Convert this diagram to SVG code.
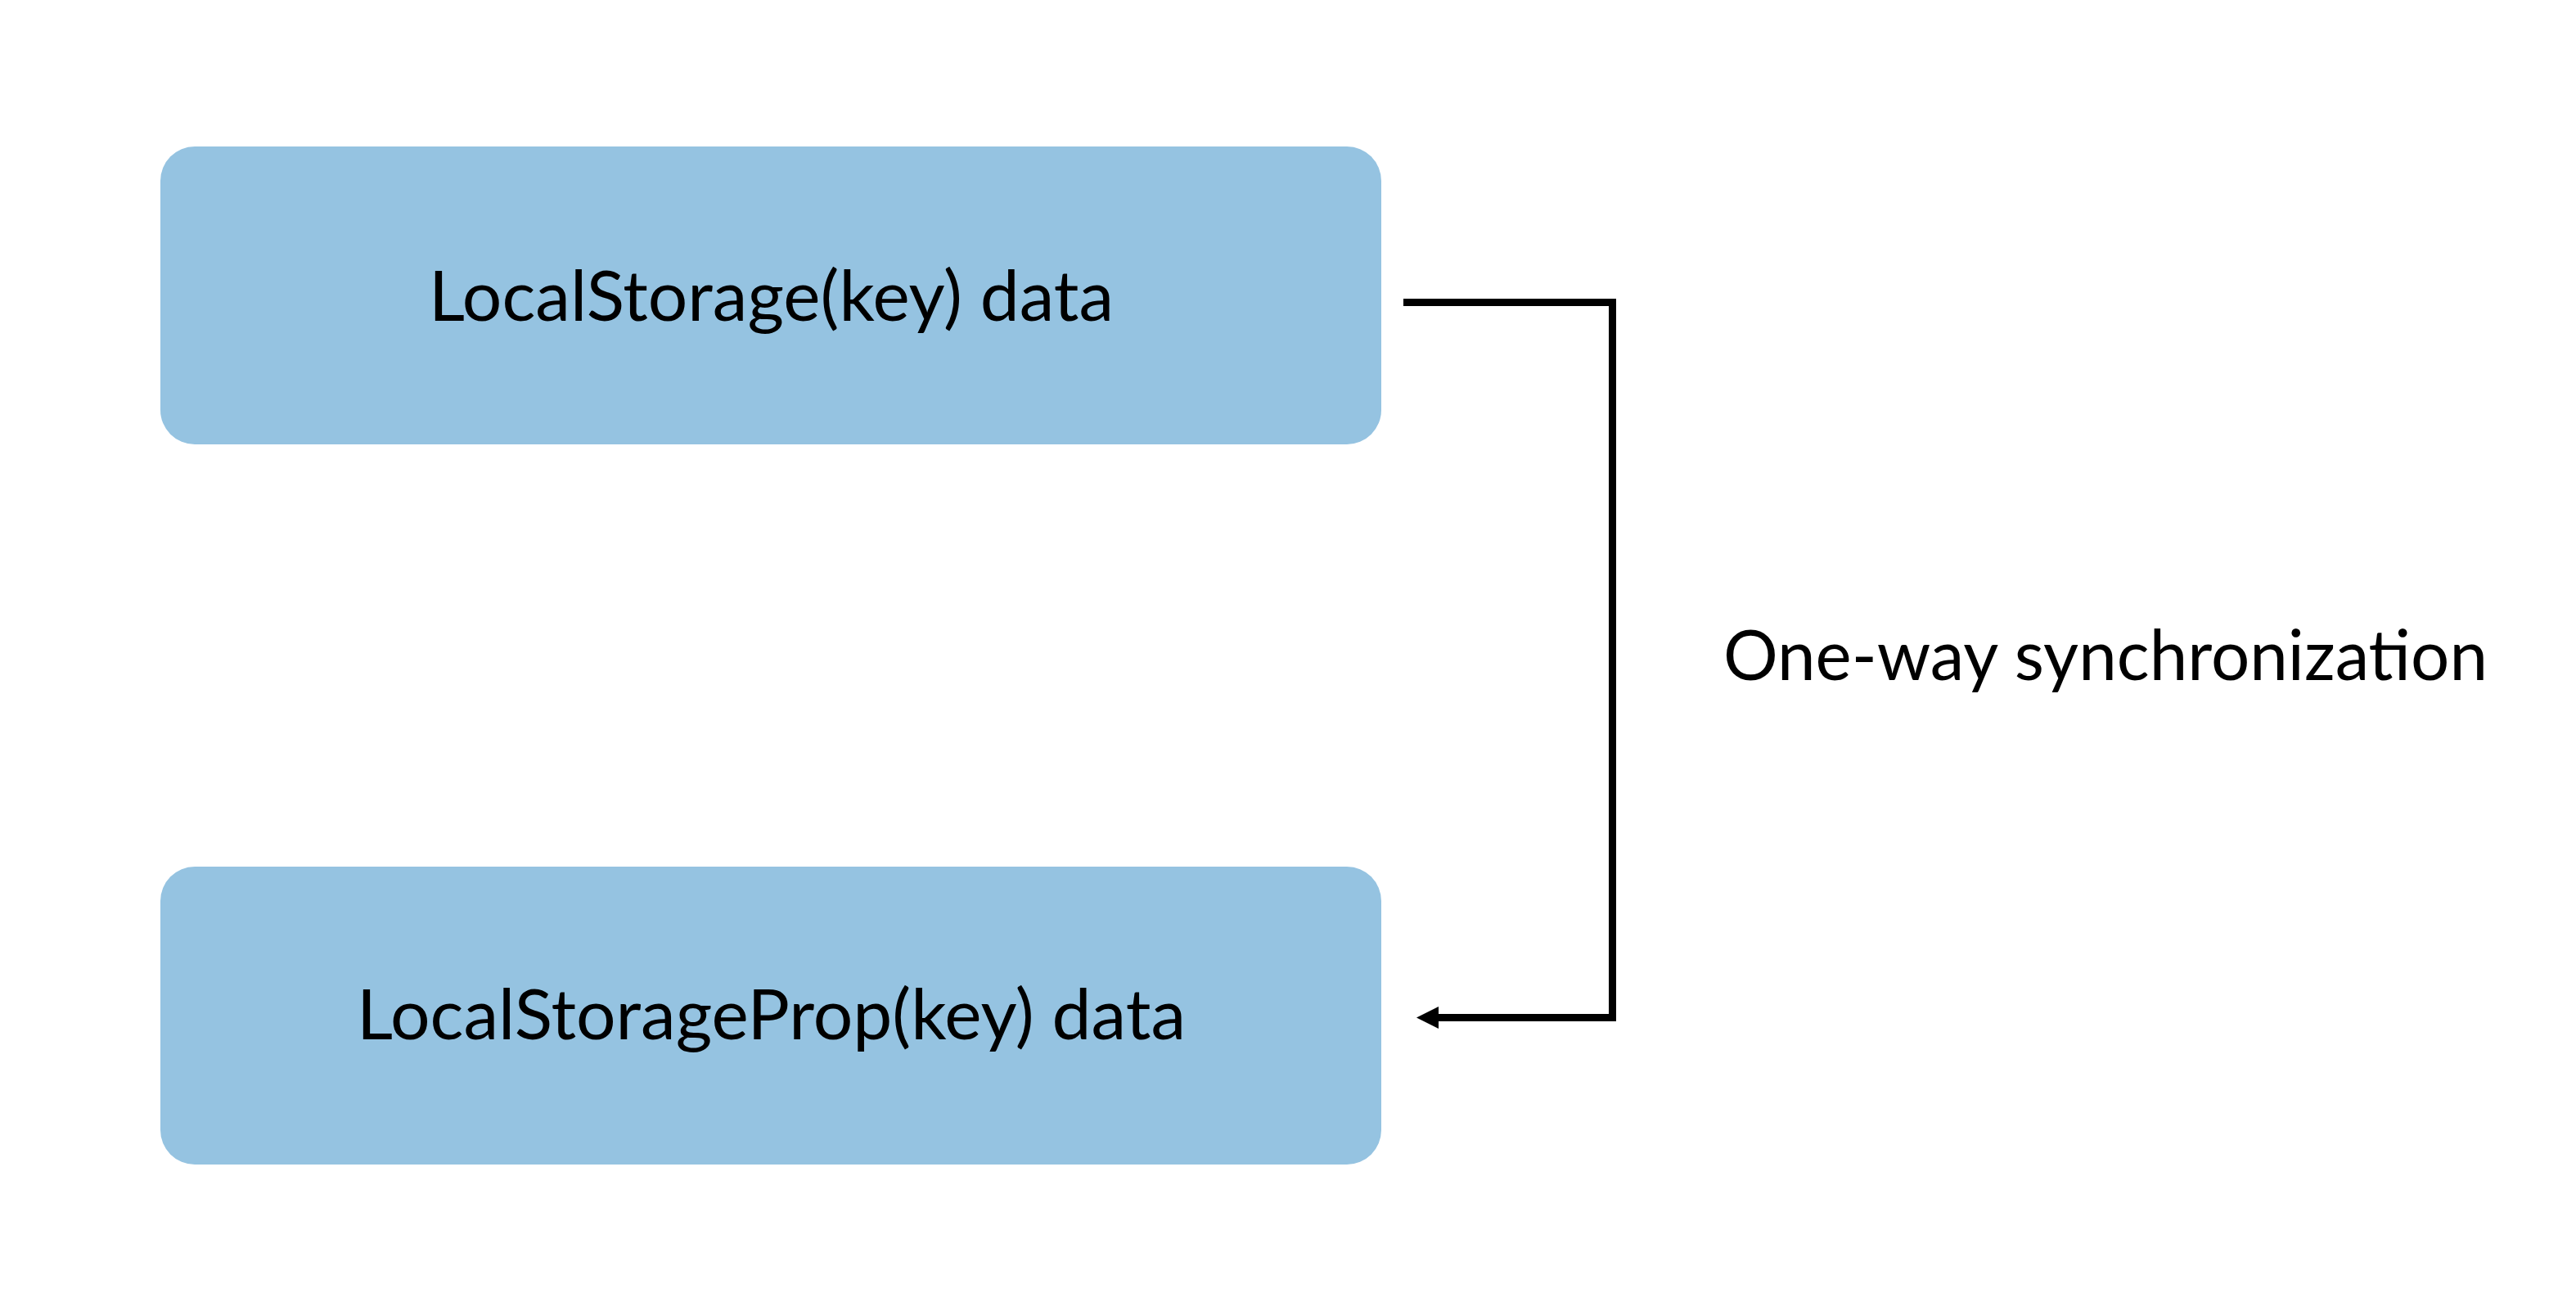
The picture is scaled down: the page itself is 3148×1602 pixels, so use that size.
<svg xmlns="http://www.w3.org/2000/svg" width="3148" height="1602" viewBox="0 0 3148 1602">
<style>
.box{fill:#95C3E1;}
.lbl{font-family:Lato,"Open Sans","Liberation Sans",sans-serif;font-size:85px;fill:#000;}
.conn{fill:none;stroke:#000;stroke-width:9;stroke-linejoin:miter;stroke-linecap:butt;}
</style>
<defs>
<marker id="arrow" viewBox="0 0 27 27" refX="0" refY="13.5" markerWidth="27" markerHeight="27" markerUnits="userSpaceOnUse" orient="auto">
<path d="M0,0 L27,13.5 L0,27 Z" fill="#000"/>
</marker>
</defs>
<rect width="3148" height="1602" fill="#fff"/>
<g id="node-localstorage">
<rect class="box" x="196" y="179" width="1492" height="364" rx="42" ry="42"/>
<text class="lbl" x="524" y="392" textLength="837" lengthAdjust="spacingAndGlyphs">LocalStorage(key) data</text>
</g>
<g id="node-localstorageprop">
<rect class="box" x="196" y="1059" width="1492" height="364" rx="42" ry="42"/>
<text class="lbl" x="436" y="1270" textLength="1013" lengthAdjust="spacingAndGlyphs">LocalStorageProp(key) data</text>
</g>
<g id="connectors">
<path class="conn" d="M1715,369.5 H1970.5 V1243.5 H1758" marker-end="url(#arrow)"/>
</g>
<g id="label-sync">
<text class="lbl" x="2106" y="831" textLength="934" lengthAdjust="spacingAndGlyphs">One-way synchronization</text>
</g>
</svg>
